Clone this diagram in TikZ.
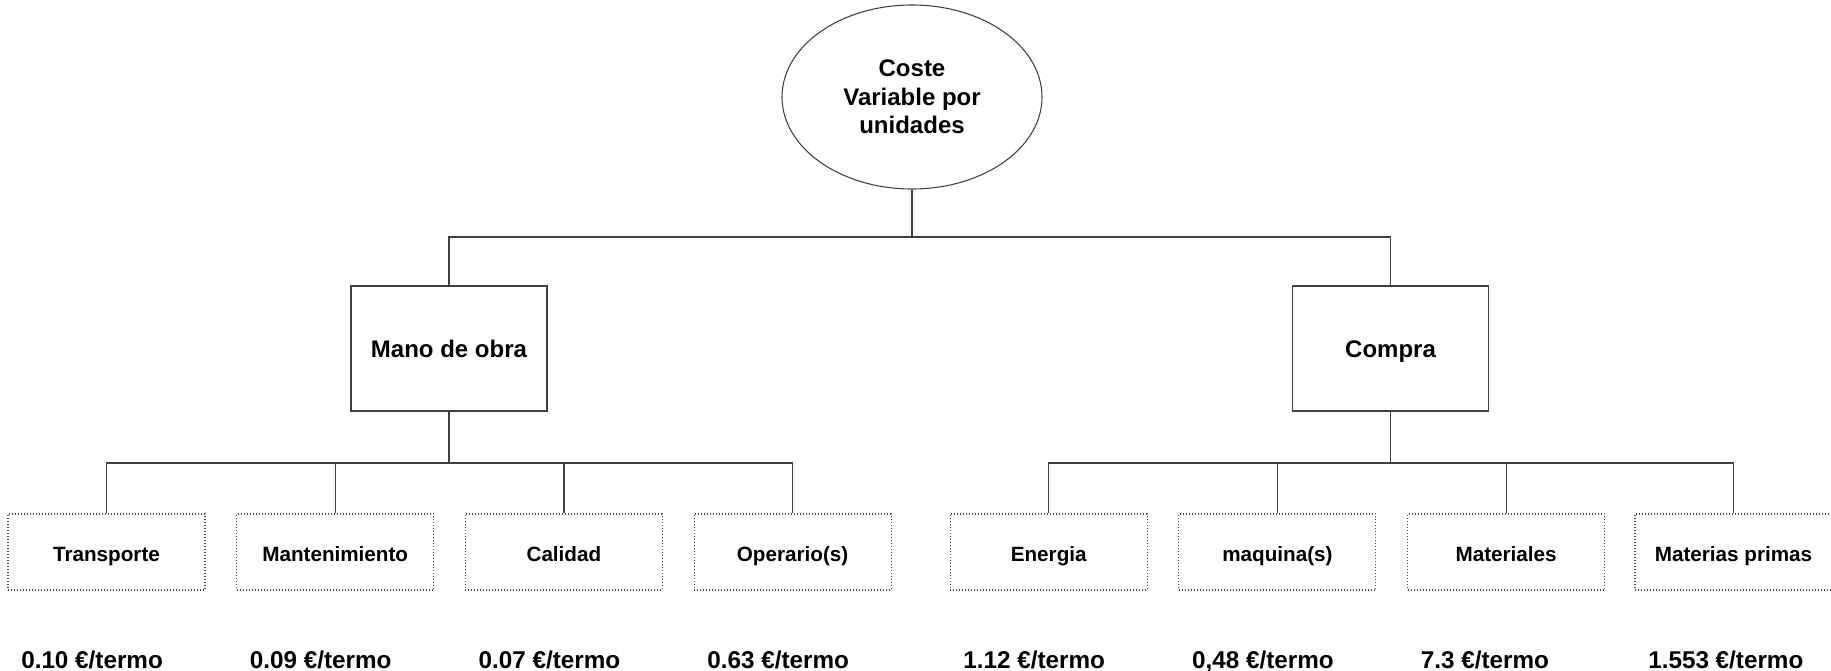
\documentclass[tikz,border=0pt]{standalone}
\usepackage{fontspec}
\setmainfont{Liberation Sans}
\usetikzlibrary{shapes.geometric}
\begin{document}
\begin{tikzpicture}[x=0.75pt,y=-0.75pt,
  line/.style={draw=black!75,line width=0.9pt},
  rootnode/.style={ellipse,draw=black!75,line width=0.8pt,minimum width=195pt,minimum height=138pt,inner sep=0pt,align=center,font=\fontsize{18}{21.3}\selectfont\bfseries},
  midbox/.style={rectangle,draw=black!75,line width=0.8pt,minimum width=147pt,minimum height=93.75pt,inner sep=0pt,text height=13.2pt,text depth=0pt,font=\fontsize{18}{21}\selectfont\bfseries},
  leafbox/.style={rectangle,draw=black!70,line width=0.8pt,dash pattern=on 0.8pt off 1.45pt,minimum width=147.75pt,minimum height=57pt,inner sep=0pt,text height=13.5pt,text depth=0pt,font=\fontsize{15.5}{18}\selectfont\bfseries},
  valtext/.style={inner sep=0pt,anchor=base west,font=\fontsize{18.2}{21}\selectfont\bfseries}]
\useasboundingbox (0,0) rectangle (1831,671);
\node[rootnode] (root) at (912,97) {Coste\\Variable por\\unidades};
\node[midbox] (mano) at (449,348.5) {Mano de obra};
\node[midbox] (compra) at (1390.5,348.5) {Compra};
\coordinate (j1) at (912,237);
\coordinate (j2) at (449,463);
\coordinate (j3) at (1390.5,463);
\foreach \n/\x/\t/\v in {a/106.5/Transporte/0.10, b/335.2/Mantenimiento/0.09, c/563.9/Calidad/0.07, d/792.6/Operario(s)/0.63, e/1048.7/Energia/1.12, f/1277.4/maquina(s)/{0,48}, g/1506.1/Materiales/7.3, h/1733.5/Materias primas/1.553}{
  \node[leafbox] (\n) at (\x,552) {\t};
  \node[valtext] (v\n) at (\x-85.5,668.5) {\v\ €/termo};
}
\draw[line] (root.south) -- (j1);
\draw[line] (mano.north) -- (mano.north |- j1) -- (compra.north |- j1) -- (compra.north);
\draw[line] (mano.south) -- (j2);
\draw[line] (compra.south) -- (j3);
\draw[line] (a.north) -- (a.north |- j2) -- (d.north |- j2) -- (d.north);
\draw[line] (b.north) -- (b.north |- j2);
\draw[line] (c.north) -- (c.north |- j2);
\draw[line] (e.north) -- (e.north |- j3) -- (h.north |- j3) -- (h.north);
\draw[line] (f.north) -- (f.north |- j3);
\draw[line] (g.north) -- (g.north |- j3);
\end{tikzpicture}
\end{document}
